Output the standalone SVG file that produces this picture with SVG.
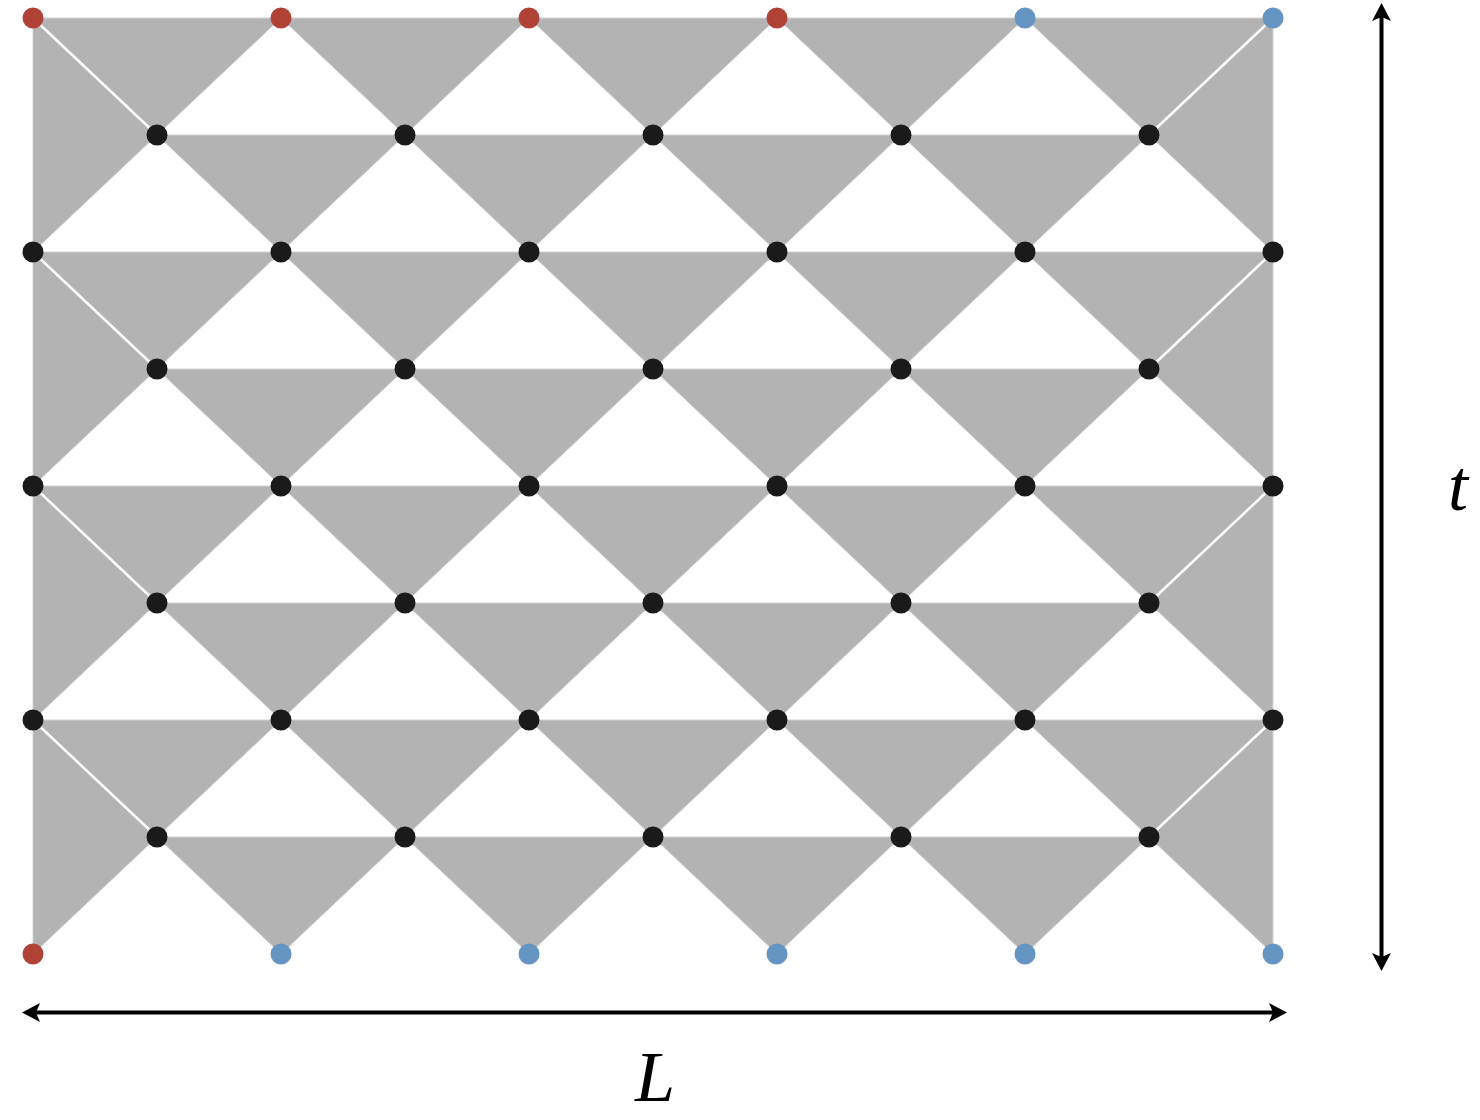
<svg xmlns="http://www.w3.org/2000/svg" width="1480" height="1120" viewBox="0 0 1480 1120">
<style>
.f{fill:#b3b3b3;stroke:#d2d2d2;stroke-width:1;stroke-linejoin:round}
.seam{stroke:#ffffff;stroke-width:2.5}
.k{fill:#1a1a1a}
.r{fill:#b04236}
.b{fill:#6595c2}
.ax{stroke:#000;stroke-width:4;fill:none}
.lbl{font-family:"Liberation Serif","DejaVu Serif",serif;font-style:italic;font-size:72px;fill:#000}
</style>
<defs>
<marker id="ah" viewBox="0 -10 18 20" refX="4" refY="0" markerWidth="18" markerHeight="20" markerUnits="userSpaceOnUse" orient="auto-start-reverse">
<path d="M18,0 L0,-9.5 L4,0 L0,9.5 Z" fill="#000"/>
</marker>
</defs>
<rect width="1480" height="1120" fill="#fff"/>
<g id="faces">
<polygon class="f" points="33,18 281,18 157,135"/><polygon class="f" points="281,18 529,18 405,135"/><polygon class="f" points="529,18 777,18 653,135"/><polygon class="f" points="777,18 1025,18 901,135"/><polygon class="f" points="1025,18 1273,18 1149,135"/>
<polygon class="f" points="157,135 405,135 281,252"/><polygon class="f" points="405,135 653,135 529,252"/><polygon class="f" points="653,135 901,135 777,252"/><polygon class="f" points="901,135 1149,135 1025,252"/>
<polygon class="f" points="33,252 281,252 157,369"/><polygon class="f" points="281,252 529,252 405,369"/><polygon class="f" points="529,252 777,252 653,369"/><polygon class="f" points="777,252 1025,252 901,369"/><polygon class="f" points="1025,252 1273,252 1149,369"/>
<polygon class="f" points="157,369 405,369 281,486"/><polygon class="f" points="405,369 653,369 529,486"/><polygon class="f" points="653,369 901,369 777,486"/><polygon class="f" points="901,369 1149,369 1025,486"/>
<polygon class="f" points="33,486 281,486 157,603"/><polygon class="f" points="281,486 529,486 405,603"/><polygon class="f" points="529,486 777,486 653,603"/><polygon class="f" points="777,486 1025,486 901,603"/><polygon class="f" points="1025,486 1273,486 1149,603"/>
<polygon class="f" points="157,603 405,603 281,720"/><polygon class="f" points="405,603 653,603 529,720"/><polygon class="f" points="653,603 901,603 777,720"/><polygon class="f" points="901,603 1149,603 1025,720"/>
<polygon class="f" points="33,720 281,720 157,837"/><polygon class="f" points="281,720 529,720 405,837"/><polygon class="f" points="529,720 777,720 653,837"/><polygon class="f" points="777,720 1025,720 901,837"/><polygon class="f" points="1025,720 1273,720 1149,837"/>
<polygon class="f" points="157,837 405,837 281,954"/><polygon class="f" points="405,837 653,837 529,954"/><polygon class="f" points="653,837 901,837 777,954"/><polygon class="f" points="901,837 1149,837 1025,954"/>
<polygon class="f" points="33,18 157,135 33,252"/><polygon class="f" points="33,252 157,369 33,486"/><polygon class="f" points="33,486 157,603 33,720"/><polygon class="f" points="33,720 157,837 33,954"/>
<polygon class="f" points="1273,18 1149,135 1273,252"/><polygon class="f" points="1273,252 1149,369 1273,486"/><polygon class="f" points="1273,486 1149,603 1273,720"/><polygon class="f" points="1273,720 1149,837 1273,954"/>
</g>
<g id="seams">
<line class="seam" x1="33" y1="18" x2="157" y2="135"/><line class="seam" x1="33" y1="252" x2="157" y2="369"/><line class="seam" x1="33" y1="486" x2="157" y2="603"/><line class="seam" x1="33" y1="720" x2="157" y2="837"/>
<line class="seam" x1="1273" y1="18" x2="1149" y2="135"/><line class="seam" x1="1273" y1="252" x2="1149" y2="369"/><line class="seam" x1="1273" y1="486" x2="1149" y2="603"/><line class="seam" x1="1273" y1="720" x2="1149" y2="837"/>
</g>
<g id="connectors">
<line class="ax" x1="1381.5" y1="17" x2="1381.5" y2="957" marker-start="url(#ah)" marker-end="url(#ah)"/>
<line class="ax" x1="36" y1="1012.5" x2="1273" y2="1012.5" marker-start="url(#ah)" marker-end="url(#ah)"/>
</g>
<g id="nodes">
<g id="n0-0"><circle class="r" cx="33" cy="18" r="10.5"/></g><g id="n0-1"><circle class="r" cx="281" cy="18" r="10.5"/></g><g id="n0-2"><circle class="r" cx="529" cy="18" r="10.5"/></g><g id="n0-3"><circle class="r" cx="777" cy="18" r="10.5"/></g><g id="n0-4"><circle class="b" cx="1025" cy="18" r="10.5"/></g><g id="n0-5"><circle class="b" cx="1273" cy="18" r="10.5"/></g>
<g id="n1-0"><circle class="k" cx="157" cy="135" r="10.5"/></g><g id="n1-1"><circle class="k" cx="405" cy="135" r="10.5"/></g><g id="n1-2"><circle class="k" cx="653" cy="135" r="10.5"/></g><g id="n1-3"><circle class="k" cx="901" cy="135" r="10.5"/></g><g id="n1-4"><circle class="k" cx="1149" cy="135" r="10.5"/></g>
<g id="n2-0"><circle class="k" cx="33" cy="252" r="10.5"/></g><g id="n2-1"><circle class="k" cx="281" cy="252" r="10.5"/></g><g id="n2-2"><circle class="k" cx="529" cy="252" r="10.5"/></g><g id="n2-3"><circle class="k" cx="777" cy="252" r="10.5"/></g><g id="n2-4"><circle class="k" cx="1025" cy="252" r="10.5"/></g><g id="n2-5"><circle class="k" cx="1273" cy="252" r="10.5"/></g>
<g id="n3-0"><circle class="k" cx="157" cy="369" r="10.5"/></g><g id="n3-1"><circle class="k" cx="405" cy="369" r="10.5"/></g><g id="n3-2"><circle class="k" cx="653" cy="369" r="10.5"/></g><g id="n3-3"><circle class="k" cx="901" cy="369" r="10.5"/></g><g id="n3-4"><circle class="k" cx="1149" cy="369" r="10.5"/></g>
<g id="n4-0"><circle class="k" cx="33" cy="486" r="10.5"/></g><g id="n4-1"><circle class="k" cx="281" cy="486" r="10.5"/></g><g id="n4-2"><circle class="k" cx="529" cy="486" r="10.5"/></g><g id="n4-3"><circle class="k" cx="777" cy="486" r="10.5"/></g><g id="n4-4"><circle class="k" cx="1025" cy="486" r="10.5"/></g><g id="n4-5"><circle class="k" cx="1273" cy="486" r="10.5"/></g>
<g id="n5-0"><circle class="k" cx="157" cy="603" r="10.5"/></g><g id="n5-1"><circle class="k" cx="405" cy="603" r="10.5"/></g><g id="n5-2"><circle class="k" cx="653" cy="603" r="10.5"/></g><g id="n5-3"><circle class="k" cx="901" cy="603" r="10.5"/></g><g id="n5-4"><circle class="k" cx="1149" cy="603" r="10.5"/></g>
<g id="n6-0"><circle class="k" cx="33" cy="720" r="10.5"/></g><g id="n6-1"><circle class="k" cx="281" cy="720" r="10.5"/></g><g id="n6-2"><circle class="k" cx="529" cy="720" r="10.5"/></g><g id="n6-3"><circle class="k" cx="777" cy="720" r="10.5"/></g><g id="n6-4"><circle class="k" cx="1025" cy="720" r="10.5"/></g><g id="n6-5"><circle class="k" cx="1273" cy="720" r="10.5"/></g>
<g id="n7-0"><circle class="k" cx="157" cy="837" r="10.5"/></g><g id="n7-1"><circle class="k" cx="405" cy="837" r="10.5"/></g><g id="n7-2"><circle class="k" cx="653" cy="837" r="10.5"/></g><g id="n7-3"><circle class="k" cx="901" cy="837" r="10.5"/></g><g id="n7-4"><circle class="k" cx="1149" cy="837" r="10.5"/></g>
<g id="n8-0"><circle class="r" cx="33" cy="954" r="10.5"/></g><g id="n8-1"><circle class="b" cx="281" cy="954" r="10.5"/></g><g id="n8-2"><circle class="b" cx="529" cy="954" r="10.5"/></g><g id="n8-3"><circle class="b" cx="777" cy="954" r="10.5"/></g><g id="n8-4"><circle class="b" cx="1025" cy="954" r="10.5"/></g><g id="n8-5"><circle class="b" cx="1273" cy="954" r="10.5"/></g>
</g>
<g id="labels">
<text class="lbl" x="1458" y="510" text-anchor="middle">t</text>
<text class="lbl" x="655" y="1101" text-anchor="middle">L</text>
</g>
</svg>
